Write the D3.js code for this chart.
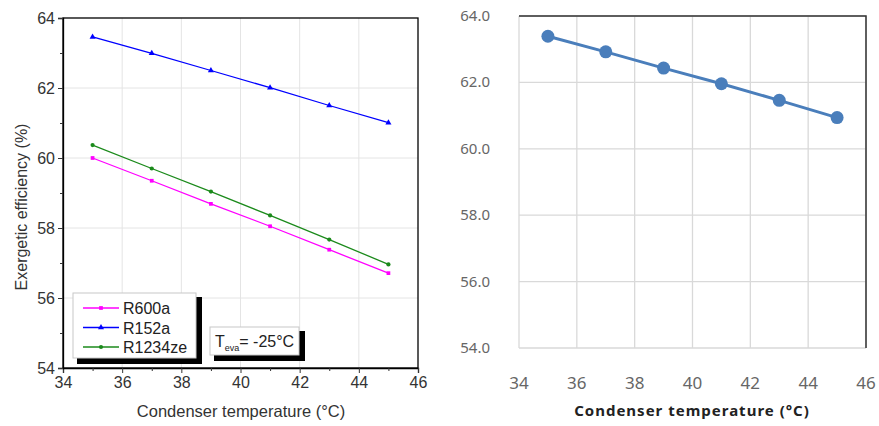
<!DOCTYPE html>
<html>
<head>
<meta charset="utf-8">
<script src="https://cdn.jsdelivr.net/npm/d3@7/dist/d3.min.js"></script>
<style>
  html, body { margin: 0; padding: 0; background: #fff; }
  svg { display: block; }
</style>
</head>
<body>
<svg id="chart" width="879" height="426"></svg>
<script>
// Condenser temperatures (°C)
const condTemps = [35, 37, 39, 41, 43, 45];

// Exergetic efficiency (%) per refrigerant, T_eva = -25 °C
const r600a   = [60.00, 59.35, 58.69, 58.05, 57.38, 56.71];
const r152a   = [63.46, 62.99, 62.50, 62.01, 61.50, 61.01];
const r1234ze = [60.37, 59.70, 59.04, 58.36, 57.67, 56.96];

// Single-series version of the same curve
const effSingle = [63.39, 62.92, 62.43, 61.96, 61.46, 60.94];

const xTicks = [34, 36, 38, 40, 42, 44, 46];
const yTicks = [54, 56, 58, 60, 62, 64];

const svg = d3.select("#chart");

/* ---------------- Left panel ---------------- */
const L = { left: 63, right: 418, top: 18, bottom: 368 };
const xL = d3.scaleLinear().domain([34, 46]).range([L.left, L.right]);
const yL = d3.scaleLinear().domain([54, 64]).range([L.bottom, L.top]);

const gL = svg.append("g");

// grid
gL.append("g").selectAll("line").data(xTicks.slice(1, -1)).join("line")
  .attr("x1", d => xL(d)).attr("x2", d => xL(d))
  .attr("y1", L.top).attr("y2", L.bottom)
  .attr("stroke", "#e4e4e4").attr("stroke-width", 1);
gL.append("g").selectAll("line").data(yTicks.slice(1, -1)).join("line")
  .attr("y1", d => yL(d)).attr("y2", d => yL(d))
  .attr("x1", L.left).attr("x2", L.right)
  .attr("stroke", "#e4e4e4").attr("stroke-width", 1);

// frame
gL.append("rect")
  .attr("x", L.left).attr("y", L.top)
  .attr("width", L.right - L.left).attr("height", L.bottom - L.top)
  .attr("fill", "none").attr("stroke", "#000").attr("stroke-width", 1.3);

// axes
const xMinorL = d3.range(35, 46, 2);
const yMinorL = d3.range(55, 64, 2);
const axLFont = "Liberation Sans, Arial, sans-serif";

const xAxL = gL.append("g").attr("transform", `translate(0,${L.bottom})`)
  .call(d3.axisBottom(xL).tickValues(xTicks).tickSize(5).tickPadding(4).tickFormat(d3.format("d")));
const yAxL = gL.append("g").attr("transform", `translate(${L.left},0)`)
  .call(d3.axisLeft(yL).tickValues(yTicks).tickSize(5).tickPadding(3).tickFormat(d3.format("d")));
gL.append("g").attr("transform", `translate(0,${L.bottom})`)
  .call(d3.axisBottom(xL).tickValues(xMinorL).tickSize(3).tickFormat(""))
  .call(g => g.select(".domain").remove());
gL.append("g").attr("transform", `translate(${L.left},0)`)
  .call(d3.axisLeft(yL).tickValues(yMinorL).tickSize(3).tickFormat(""))
  .call(g => g.select(".domain").remove());
[xAxL, yAxL].forEach(a => {
  a.select(".domain").attr("stroke-width", 1.3);
  a.selectAll("text").attr("font-family", axLFont).attr("font-size", 16).attr("fill", "#333");
});
gL.selectAll(".tick line").attr("stroke", "#333");

// axis titles
gL.append("text")
  .attr("x", 241).attr("y", 417)
  .attr("text-anchor", "middle")
  .attr("font-family", axLFont).attr("font-size", 16.5).attr("fill", "#333")
  .text("Condenser temperature (°C)");
gL.append("text")
  .attr("transform", `translate(27,${(L.top + L.bottom) / 2 + 14}) rotate(-90)`)
  .attr("text-anchor", "middle")
  .attr("font-family", axLFont).attr("font-size", 16).attr("fill", "#333")
  .text("Exergetic efficiency (%)");

// series
const seriesL = [
  { name: "R600a",   values: r600a,   color: "#ff00ff", symbol: d3.symbolSquare,   size: 14 },
  { name: "R152a",   values: r152a,   color: "#0000ff", symbol: d3.symbolTriangle, size: 16 },
  { name: "R1234ze", values: r1234ze, color: "#1b8a1b", symbol: d3.symbolCircle,   size: 14 }
];
const lineL = d3.line().x((d, i) => xL(condTemps[i])).y(d => yL(d));

seriesL.forEach(s => {
  gL.append("path").datum(s.values)
    .attr("d", lineL).attr("fill", "none")
    .attr("stroke", s.color).attr("stroke-width", 1.3);
  gL.append("g").selectAll("path").data(s.values).join("path")
    .attr("transform", (d, i) => `translate(${xL(condTemps[i])},${yL(d)})`)
    .attr("d", d3.symbol().type(s.symbol).size(s.size))
    .attr("fill", s.color);
});

// legend
const lg = gL.append("g").attr("transform", "translate(73,293)");
lg.append("rect").attr("x", 4).attr("y", 4).attr("width", 125).attr("height", 67).attr("fill", "#000");
lg.append("rect").attr("x", 0).attr("y", 0).attr("width", 123).attr("height", 65)
  .attr("fill", "#fff").attr("stroke", "#c8c8c8").attr("stroke-width", 1);
seriesL.forEach((s, i) => {
  const yy = 15 + i * 19.5;
  lg.append("line").attr("x1", 10).attr("x2", 46).attr("y1", yy).attr("y2", yy)
    .attr("stroke", s.color).attr("stroke-width", 1.3);
  lg.append("path").attr("transform", `translate(28,${yy})`)
    .attr("d", d3.symbol().type(s.symbol).size(s.size)).attr("fill", s.color);
  lg.append("text").attr("x", 50).attr("y", yy + 6)
    .attr("font-family", axLFont).attr("font-size", 16).attr("fill", "#222")
    .text(s.name);
});

// evaporator temperature note
const nb = gL.append("g").attr("transform", "translate(210,327)");
nb.append("rect").attr("x", 4).attr("y", 4).attr("width", 91).attr("height", 30).attr("fill", "#000");
nb.append("rect").attr("x", 0).attr("y", 0).attr("width", 89).attr("height", 28)
  .attr("fill", "#fff").attr("stroke", "#c8c8c8").attr("stroke-width", 1);
const nt = nb.append("text").attr("x", 5).attr("y", 20)
  .attr("font-family", axLFont).attr("font-size", 16).attr("fill", "#222");
nt.append("tspan").text("T");
nt.append("tspan").attr("dy", 4).attr("font-size", 9).text("eva");
nt.append("tspan").attr("dy", -4).text("= -25°C");

/* ---------------- Right panel ---------------- */
const R = { left: 519, right: 866, top: 16, bottom: 348 };
const xR = d3.scaleLinear().domain([34, 46]).range([R.left, R.right]);
const yR = d3.scaleLinear().domain([54, 64]).range([R.bottom, R.top]);
const gR = svg.append("g");
const rFont = "Noto Sans, DejaVu Sans, sans-serif";

gR.append("g").selectAll("line").data(xTicks).join("line")
  .attr("x1", d => xR(d)).attr("x2", d => xR(d))
  .attr("y1", R.top).attr("y2", R.bottom)
  .attr("stroke", "#d9d9d9").attr("stroke-width", 1.3);
gR.append("g").selectAll("line").data(yTicks).join("line")
  .attr("y1", d => yR(d)).attr("y2", d => yR(d))
  .attr("x1", R.left).attr("x2", R.right)
  .attr("stroke", "#d9d9d9").attr("stroke-width", 1.3);

// dark top and right border
gR.append("path")
  .attr("d", `M${R.left},${R.top}H${R.right}V${R.bottom}`)
  .attr("fill", "none").attr("stroke", "#333").attr("stroke-width", 1.5);

gR.append("g").selectAll("text").data(yTicks).join("text")
  .attr("x", R.left - 29).attr("y", d => yR(d) + 5)
  .attr("text-anchor", "end")
  .attr("font-family", rFont).attr("font-size", 15).attr("fill", "#666")
  .text(d3.format(".1f"));
gR.append("g").selectAll("text").data(xTicks).join("text")
  .attr("x", d => xR(d)).attr("y", 389)
  .attr("text-anchor", "middle")
  .attr("font-family", rFont).attr("font-size", 17).attr("fill", "#666")
  .text(d3.format("d"));
gR.append("text")
  .attr("x", 692).attr("y", 416)
  .attr("text-anchor", "middle")
  .attr("font-family", rFont).attr("font-size", 15).attr("font-weight", "bold")
  .attr("letter-spacing", 1).attr("fill", "#222")
  .text("Condenser temperature (°C)");

const lineR = d3.line().x((d, i) => xR(condTemps[i])).y(d => yR(d));
gR.append("path").datum(effSingle)
  .attr("d", lineR).attr("fill", "none")
  .attr("stroke", "#4a7ebb").attr("stroke-width", 3);
gR.append("g").selectAll("circle").data(effSingle).join("circle")
  .attr("cx", (d, i) => xR(condTemps[i])).attr("cy", d => yR(d))
  .attr("r", 6.5).attr("fill", "#4a7ebb");
</script>
</body>
</html>
